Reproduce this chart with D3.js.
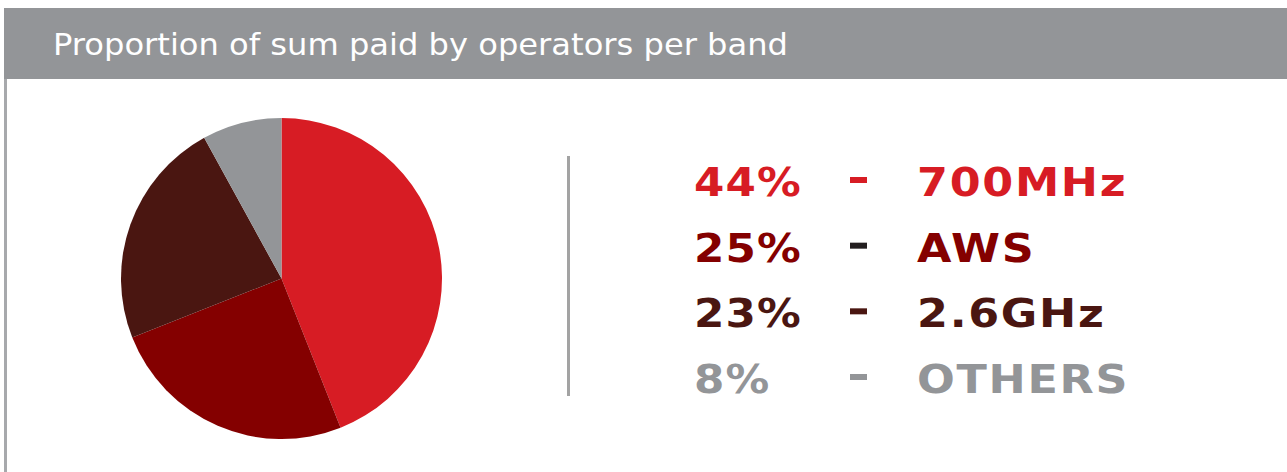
<!DOCTYPE html>
<html>
<head>
<meta charset="utf-8">
<script src="https://cdn.jsdelivr.net/npm/d3@7"></script>
<style>
  html, body { margin: 0; padding: 0; background: #fff; }
  svg { display: block; }
</style>
</head>
<body>
<svg id="chart"></svg>
<script>
const title = "Proportion of sum paid by operators per band";
const bands = ["700MHz", "AWS", "2.6GHz", "OTHERS"];
const shares = [44, 25, 23, 8];
const colors = ["#d71c24", "#840000", "#4a1611", "#939598"];
const dashColors = ["#d71c24", "#231f20", "#4a1611", "#939598"];

const width = 1287;
const height = 472;

const svg = d3.select("#chart")
    .attr("width", width)
    .attr("height", height);

// header band
svg.append("rect")
    .attr("x", 4).attr("y", 8)
    .attr("width", width - 4).attr("height", 71)
    .attr("fill", "#939598");

svg.append("rect")
    .attr("x", 4).attr("y", 79)
    .attr("width", 3).attr("height", height - 79)
    .attr("fill", "#a7a9ac");

svg.append("text")
    .attr("x", 53).attr("y", 54.5)
    .attr("fill", "#fff")
    .attr("font-family", "DejaVu Sans, sans-serif")
    .attr("font-size", 30.5)
    .attr("textLength", 735)
    .attr("lengthAdjust", "spacingAndGlyphs")
    .text(title);

// pie
const data = bands.map((b, i) => ({ band: b, share: shares[i], color: colors[i], dash: dashColors[i] }));

const pie = d3.pie().sort(null).value(d => d.share);
const arc = d3.arc().innerRadius(0).outerRadius(160.5);

svg.append("g")
    .attr("transform", "translate(281.5,278.5)")
    .selectAll("path")
    .data(pie(data))
    .join("path")
    .attr("d", arc)
    .attr("fill", d => d.data.color);

// separator
svg.append("rect")
    .attr("x", 567).attr("y", 156)
    .attr("width", 3).attr("height", 240)
    .attr("fill", "#a3a3a3");

// legend
const y = d3.scalePoint().domain(bands).range([196, 393]);

const rows = svg.append("g")
    .attr("font-family", "DejaVu Sans, sans-serif")
    .attr("font-weight", "bold")
    .attr("font-size", 39)
    .selectAll("g")
    .data(data)
    .join("g")
    .attr("transform", d => `translate(0,${y(d.band)})`);

// wide letters, like the original's geometric face
rows.append("text")
    .attr("transform", "translate(694,0) scale(1.12,1)")
    .attr("letter-spacing", 1)
    .attr("fill", d => d.color)
    .text(d => d.share + "%");

rows.append("rect")
    .attr("x", 850).attr("y", -19)
    .attr("width", 17).attr("height", 6)
    .attr("fill", d => d.dash);

rows.append("text")
    .attr("transform", "translate(917,0) scale(1.14,1)")
    .attr("letter-spacing", 1.5)
    .attr("fill", d => d.color)
    .text(d => d.band);
</script>
</body>
</html>
